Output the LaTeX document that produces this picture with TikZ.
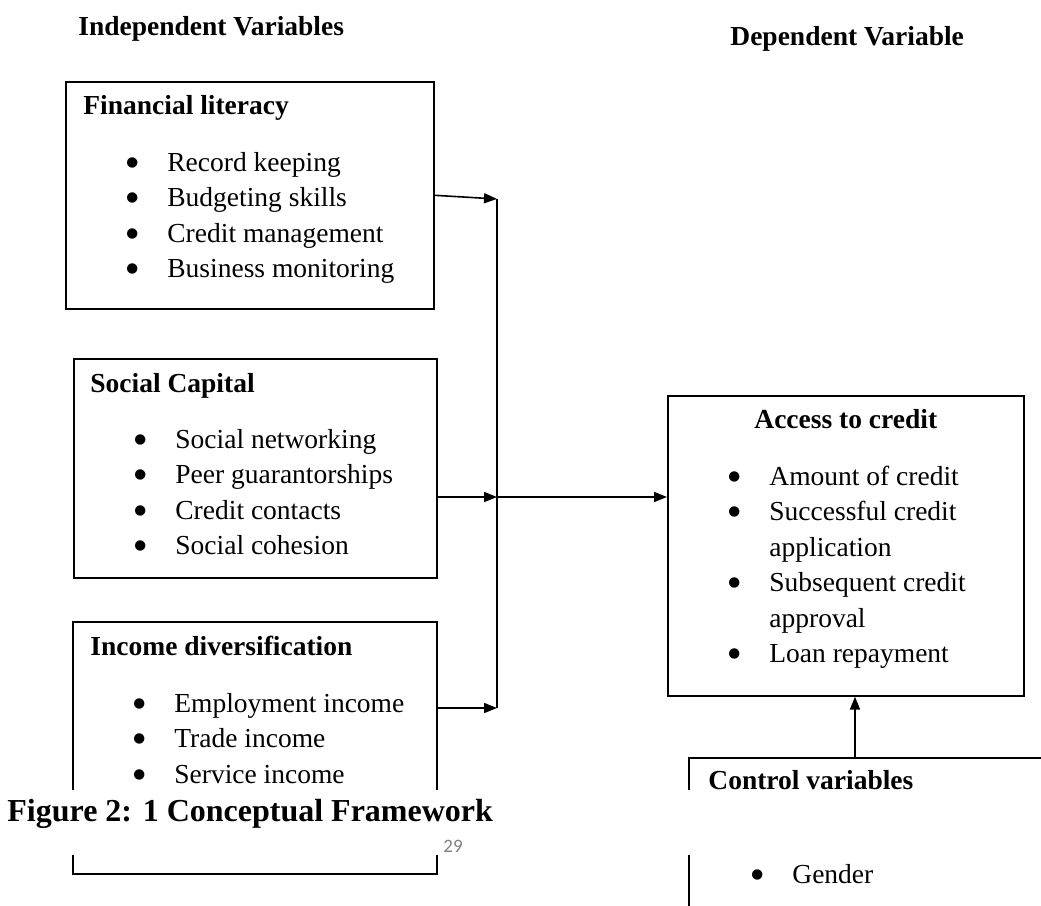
\documentclass[tikz,border=0pt]{standalone}
\usepackage{fontspec}
\setmainfont{Liberation Serif}
\newfontfamily\pagefont{Carlito}
\newfontfamily\dotfont{DejaVu Sans}
\usepackage{tikz}
\usetikzlibrary{arrows.meta,
positioning,
calc}

\newcommand{\itm}{\makebox[20.5pt][l]{\raisebox{2.3pt}{\fontsize{6.8}{8}\dotfont ●}}}
\newcommand{\blist}[1]{\begin{tabular}[t]{@{}l@{}}#1\end{tabular}}

\begin{document}
\begin{tikzpicture}[
		x=0.5pt, y=-0.5pt,
		>={Triangle[length=6.5pt,width=5pt]},
		box/.style={
			draw,
			line width=0.8pt,
			anchor=north west,
			inner sep=0pt
		},
		head/.style={
			font=\fontsize{13.75}{17.75}\selectfont\bfseries,
			inner sep=0pt,
			anchor=base west
		},
		items/.style={
			font=\fontsize{13.75}{17.75}\selectfont,
			inner sep=0pt,
			anchor=base west
		},
		link/.style={line width=0.8pt}
		]
		\useasboundingbox (0,0) rectangle (1041,906);
		
		% Column titles
		\node[head] (indep) at (78,35) {Independent Variables};
		\node[head] (dep) at (730,45) {Dependent Variable};
		
		% Independent variables
		\node[box, minimum width=184pt, minimum height=113.5pt] (fin) at (65,81) {};
		\node[head] (finT) at ([shift={(18,33)}]fin.north west) {Financial literacy};
		\node[items] (finL) at ([shift={(61,90)}]fin.north west)
		{\blist{\itm Record keeping\\ \itm Budgeting skills\\ \itm Credit management\\ \itm Business monitoring}};
		
		\node[box, minimum width=181.5pt, minimum height=109.5pt] (soc) at (73,358) {};
		\node[head] (socT) at ([shift={(17,34)}]soc.north west) {Social Capital};
		\node[items] (socL) at ([shift={(61,90)}]soc.north west)
		{\blist{\itm Social networking\\ \itm Peer guarantorships\\ \itm Credit contacts\\ \itm Social cohesion}};
		
		\node[box, minimum width=182pt, minimum height=126pt] (inc) at (72,621) {};
		\node[head] (incT) at ([shift={(18,34)}]inc.north west) {Income diversification};
		\node[items] (incL) at ([shift={(61,91)}]inc.north west)
		{\blist{\itm Employment income\\ \itm Trade income\\ \itm Service income}};
		
		% Dependent variable
		\node[box, minimum width=178pt, minimum height=150pt] (acc) at (667,395) {};
		\node[head, anchor=base] (accT) at ([shift={(0,33)}]acc.north) {Access to credit};
		\node[items] (accL) at ([shift={(61,90)}]acc.north west)
		{\blist{\itm Amount of credit\\ \itm Successful credit\\ \hspace*{20.5pt}application\\
				\itm Subsequent credit\\ \hspace*{20.5pt}approval\\ \itm Loan repayment}};
		
		% Control variables
		\node[box, minimum width=250pt, minimum height=150pt] (ctl) at (688,757) {};
		\node[head] (ctlT) at ([shift={(20,32)}]ctl.north west) {Control variables};
		\node[items] (ctlL) at ([shift={(63,126)}]ctl.north west) {\blist{\itm Gender}};
		
		% Junction points
		\coordinate (top) at (497,199);
		\coordinate (mid) at (497,497);
		\coordinate (bot) at (497,708);
		\coordinate (up) at (855,0);
		
		% Connections
		\draw[link, ->] (fin.east) -- (top);
		\draw[link, ->] (soc.east |- mid) -- (mid);
		\draw[link, ->] (inc.east |- bot) -- (bot);
		\draw[link] (top) -- (bot);
		\draw[link, ->] (mid) -- (acc.west |- mid);
		\draw[link, ->] (ctl.north -| up) -- (acc.south -| up);
		
		% Page break
		\fill[white] (0,790) rectangle (1041,855);
		\node[head, font=\fontsize{16}{19}\selectfont\bfseries] (cap) at (7,821) {Figure 2: 1 Conceptual Framework};
		\node[items, font=\fontsize{9.5}{11}\selectfont\pagefont, text=gray] (pno) at (443,852) {29};
		
	\end{tikzpicture}
\end{document}
